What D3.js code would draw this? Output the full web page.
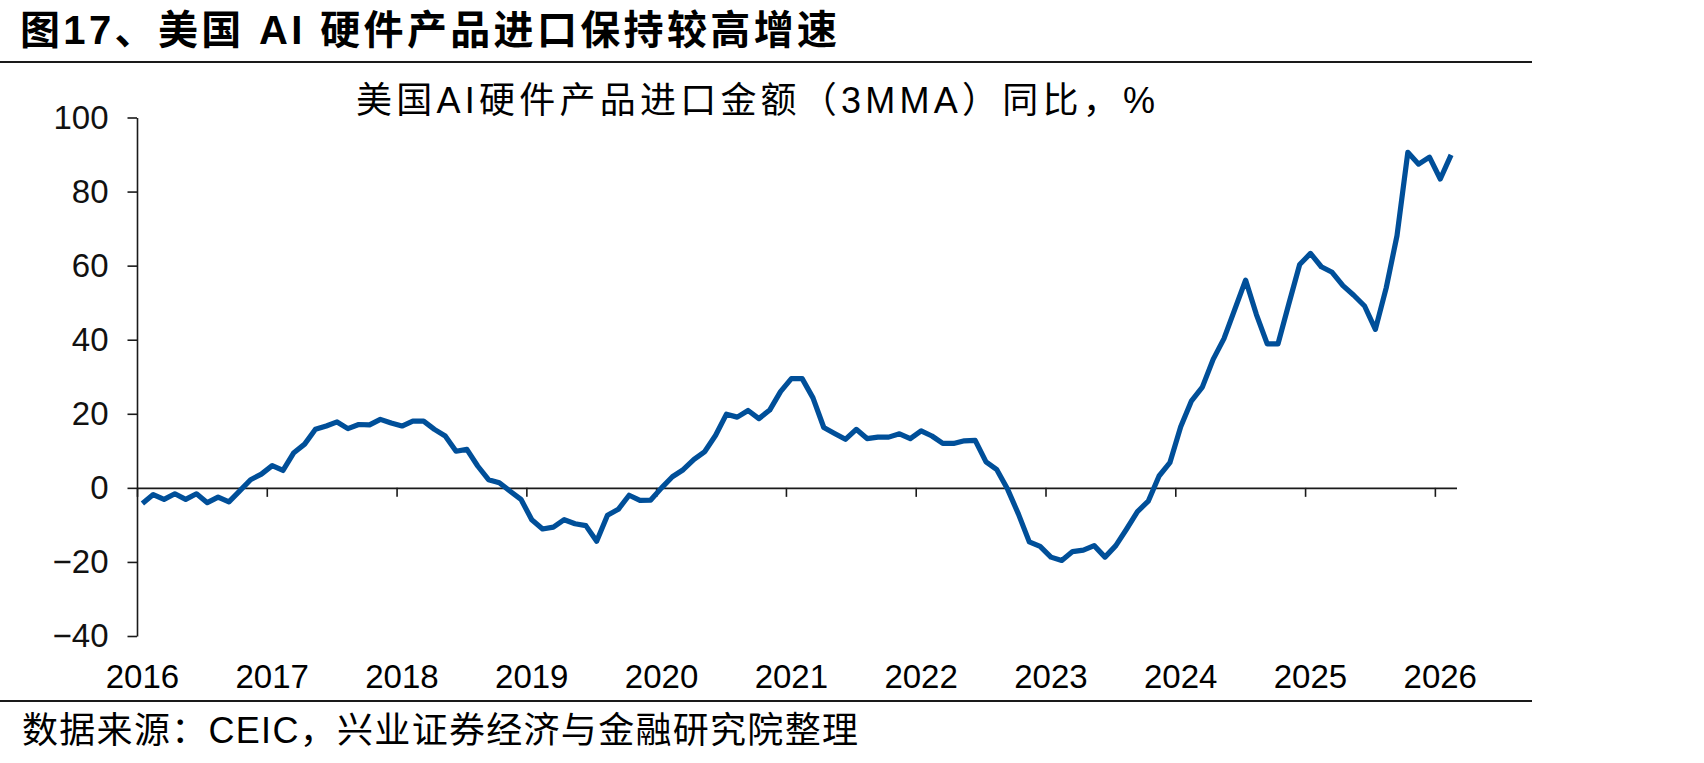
<!DOCTYPE html>
<meta charset="utf-8">
<style>
    body { margin: 0; background: #fff; }
    text { font-family: "Liberation Sans", Arial, "Noto Sans CJK SC", sans-serif; fill: #000; }
    .axis path, .axis line { stroke: #1a1a1a; stroke-width: 1.6px; }
    .axis text { font-size: 33px; fill: #111; }
</style>
<body>
<svg width="1704" height="763"></svg>
</body>
<script src="https://d3js.org/d3.v7.min.js"></script>
<script>
    // monthly series, Jan 2016 .. Feb 2026, YoY % (3MMA)
    const values = [
        -4.2, -1.8, -3.1, -1.6, -3.1, -1.6, -4.0, -2.5, -3.8, -0.8, 2.2, 3.7,
        6.0, 4.7, 9.5, 11.8, 15.8, 16.7, 17.8, 16.0, 17.1, 17.0, 18.5, 17.5,
        16.7, 18.0, 18.0, 15.8, 14.0, 9.9, 10.4, 5.9, 2.2, 1.4, -0.9, -3.1,
        -8.6, -11.1, -10.6, -8.6, -9.7, -10.2, -14.4, -7.4, -5.8, -2.0, -3.4, -3.3,
        0.0, 3.0, 4.9, 7.7, 9.8, 14.2, 19.9, 19.1, 20.9, 18.7, 21.0, 26.0,
        29.5, 29.5, 24.3, 16.3, 14.7, 13.1, 15.8, 13.3, 13.7, 13.7, 14.6, 13.3,
        15.4, 14.0, 12.0, 12.0, 12.7, 12.8, 7.0, 4.9, -0.4, -7.1, -14.6, -15.8,
        -18.7, -19.6, -17.2, -16.8, -15.6, -18.7, -15.6, -11.1, -6.4, -3.6, 3.2, 6.8,
        16.5, 23.5, 27.2, 34.7, 40.3, 48.2, 56.1, 46.8, 38.9, 38.9, 49.7, 60.3,
        63.3, 59.7, 58.2, 54.6, 52.0, 49.1, 42.8, 54.0, 68.1, 90.6, 87.4, 89.3,
        83.4, 89.9
    ];
    const years = ['2016', '2017', '2018', '2019', '2020', '2021', '2022', '2023', '2024', '2025', '2026'];
    const yTicks = [-40, -20, 0, 20, 40, 60, 80, 100];

    const title = '图17、美国 AI 硬件产品进口保持较高增速';
    const subtitle = '美国AI硬件产品进口金额（3MMA）同比，%';
    const source = '数据来源：CEIC，兴业证券经济与金融研究院整理';

    const svg = d3.select('svg');

    const x = d3.scaleLinear().domain([0, values.length]).range([137, 1456.5]);
    const y = d3.scaleLinear().domain([-40, 100]).range([636, 117.5]);

    // header / footer
    svg.append('text')
        .attr('x', 20).attr('y', 44)
        .attr('font-size', 40).attr('font-weight', 'bold')
        .attr('textLength', 817).attr('lengthAdjust', 'spacing')
        .text(title);

    svg.append('line')
        .attr('x1', 0).attr('x2', 1532).attr('y1', 62).attr('y2', 62)
        .attr('stroke', '#1a1a1a').attr('stroke-width', 2);

    svg.append('line')
        .attr('x1', 0).attr('x2', 1532).attr('y1', 701).attr('y2', 701)
        .attr('stroke', '#1a1a1a').attr('stroke-width', 2);

    svg.append('text')
        .attr('x', 356).attr('y', 113)
        .attr('font-size', 36)
        .attr('textLength', 799).attr('lengthAdjust', 'spacing')
        .text(subtitle);

    svg.append('text')
        .attr('x', 22).attr('y', 743)
        .attr('font-size', 36)
        .attr('textLength', 836).attr('lengthAdjust', 'spacing')
        .text(source);

    // y axis
    svg.append('g')
        .attr('class', 'axis')
        .attr('transform', 'translate(' + x(0) + ',0)')
        .call(d3.axisLeft(y).tickValues(yTicks).tickSize(9.5).tickSizeOuter(0).tickPadding(19));

    // x axis on the zero line, ticks at year boundaries
    svg.append('g')
        .attr('class', 'axis')
        .attr('transform', 'translate(0,' + y(0) + ')')
        .call(d3.axisBottom(x).tickValues(d3.range(0, values.length, 12)).tickSize(9).tickSizeOuter(0).tickFormat(''));

    // year labels sit at the January category
    svg.append('g')
        .selectAll('text')
        .data(years)
        .enter().append('text')
        .attr('x', (d, i) => x(i * 12 + 0.5))
        .attr('y', 688)
        .attr('text-anchor', 'middle')
        .attr('font-size', 33)
        .attr('fill', '#111')
        .text(d => d);

    const line = d3.line()
        .x((d, i) => x(i + 0.5))
        .y(d => y(d));

    svg.append('path')
        .datum(values)
        .attr('fill', 'none')
        .attr('stroke', '#004f99')
        .attr('stroke-width', 5.2)
        .attr('stroke-linejoin', 'round')
        .attr('d', line);
</script>
